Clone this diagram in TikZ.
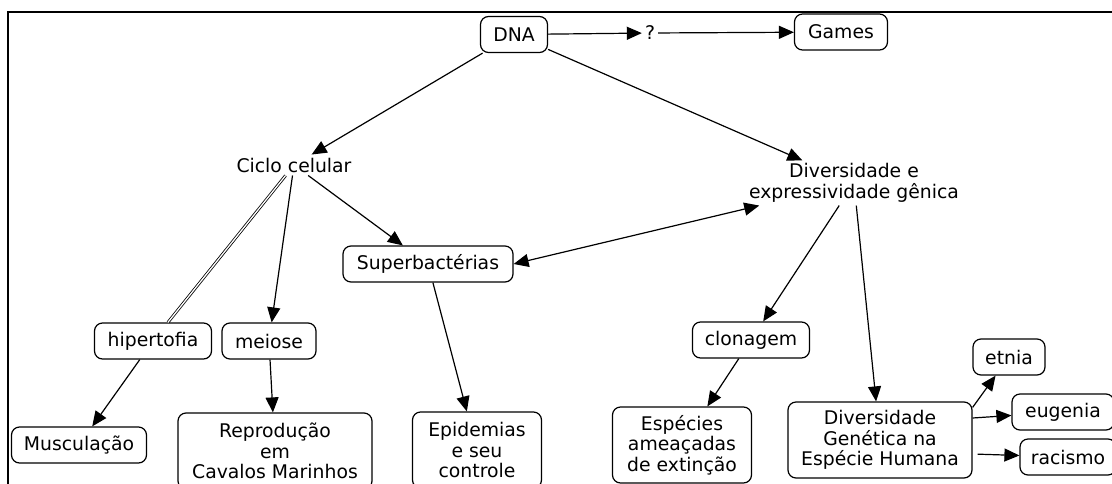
\documentclass[tikz,border=0pt]{standalone}
\usepackage{fontspec}
\setmainfont{DejaVu Sans}
\usetikzlibrary{arrows.meta}
\begin{document}
\begin{tikzpicture}[x=1pt,y=-1pt,
  every node/.style={font=\fontsize{18.8}{20.5}\selectfont, text=black},
  box/.style={draw, line width=1.2pt, rounded corners=8pt, minimum height=36pt, inner xsep=6pt, inner ysep=3pt},
  mbox/.style={box, align=center, minimum height=76pt},
  lbl/.style={inner sep=3pt, align=center},
  arr/.style={line width=1.2pt, -{Triangle[length=15pt,width=13pt]}},
  arrtwo/.style={line width=1.2pt, {Triangle[length=15pt,width=13pt]}-{Triangle[length=15pt,width=13pt]}},
  dblline/.style={line width=0.8pt, double=white, double distance=1.3pt}
]
\useasboundingbox (0,0) rectangle (1112,483);
\clip (0,0) rectangle (1112,483);
\fill[white] (0,0) rectangle (1112,483);
\draw[line width=1.8pt] (8,490) -- (8,12) -- (1120,12);

\node[box, minimum width=67pt] (dna) at (514,34.5) {DNA};
\node[lbl] (q) at (650,33) {?};
\node[box, minimum width=93pt] (games) at (841,32) {Games};
\node[lbl] (ciclo) at (294,165) {Ciclo celular};
\node[lbl] (div) at (854,183) {Diversidade e\\expressividade gênica};
\node[box, minimum width=170pt] (sup) at (428,264) {Superbactérias};
\node[box, minimum width=117pt] (hip) at (153,341) {hipertofia};
\node[box, minimum width=94pt] (mei) at (269,341) {meiose};
\node[box, minimum width=135pt] (mus) at (79,445) {Musculação};
\node[mbox, minimum width=194pt] (rep) at (275,451) {Reprodução\\em\\Cavalos Marinhos};
\node[mbox, minimum width=129pt] (epi) at (477,450) {Epidemias\\e seu\\controle};
\node[box, minimum width=117pt] (clo) at (751,340) {clonagem};
\node[mbox, minimum width=139pt] (esp) at (682,445) {Espécies\\ameaçadas\\de extinção};
\node[mbox, minimum width=184pt] (dgh) at (880,440) {Diversidade\\Genética na\\Espécie Humana};
\node[box, minimum width=72pt] (etn) at (1009,357) {etnia};
\node[box, minimum width=102pt] (eug) at (1063,412) {eugenia};
\node[box, minimum width=96pt] (rac) at (1068,457) {racismo};

\draw[arr] (dna) -- (q);
\draw[arr] (q) -- (games);
\draw[arr] (dna) -- (ciclo);
\draw[arr] (dna) -- (div);
\draw[arr] (ciclo) -- (sup);
\draw[dblline] (ciclo) -- (hip);
\draw[arr] (ciclo) -- (mei);
\draw[arr] (hip) -- (mus);
\draw[arr] (mei) -- (rep);
\draw[arrtwo] (sup.east) -- (div);
\draw[arr] (sup) -- (epi);
\draw[arr] (div) -- (clo);
\draw[arr] (div) -- (dgh);
\draw[arr] (clo) -- (esp);
\draw[arr] ([yshift=-6pt]dgh.north east) -- (etn);
\draw[arr] ([yshift=22pt]dgh.east) -- (eug);
\draw[arr, shorten <=5pt] ([yshift=-14pt]dgh.east) -- (rac);
\end{tikzpicture}
\end{document}
